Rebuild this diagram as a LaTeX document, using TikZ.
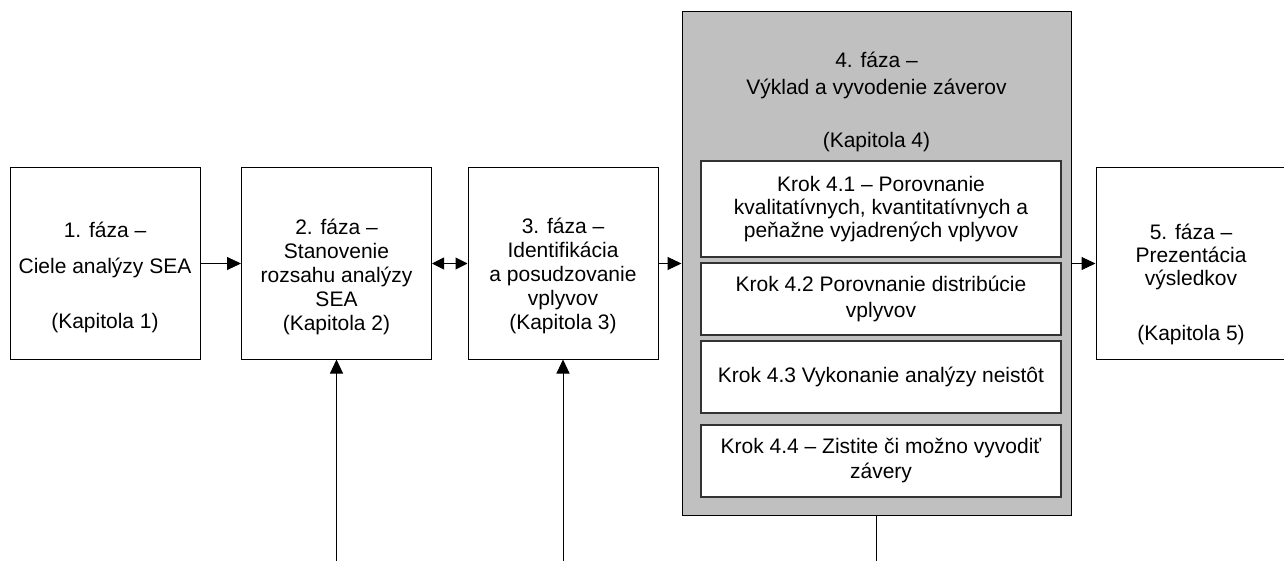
\documentclass[tikz,border=0pt]{standalone}
\usepackage{fontspec}
\setmainfont{Liberation Sans}
\usetikzlibrary{arrows.meta}
\definecolor{panelgray}{HTML}{C0C0C0}
\begin{document}
\begin{tikzpicture}[x=1pt,y=-1pt,
  phasebox/.style={draw=black,line width=1pt,fill=white,minimum width=190pt,minimum height=191pt,inner sep=0pt},
  panel/.style={draw=black,line width=1pt,fill=panelgray,minimum width=389pt,minimum height=503pt,inner sep=0pt},
  stepbox/.style={draw=black!80,line width=1.3pt,fill=white,minimum width=360pt,inner sep=0pt,align=center,font=\fontsize{21}{23}\selectfont},
  txt/.style={align=center,inner sep=0pt,font=\fontsize{21}{24}\selectfont},
  arr/.style={-{Triangle[length=14pt,width=13pt]},line width=1pt},
  dbl/.style={{Triangle[length=12pt,width=12pt]}-{Triangle[length=12pt,width=12pt]},line width=1pt}
]
\useasboundingbox (0,0) rectangle (1284,561);

% phase boxes
\node[phasebox] (b1) at (105,263.5) {};
\node[phasebox] (b2) at (336.5,263.5) {};
\node[phasebox] (b3) at (563,263.5) {};
\node[panel]    (p4) at (876.5,263.5) {};
\node[phasebox] (b5) at (1191,263.5) {};

% texts of the phase boxes
\node[txt] (t1) at (105,277) {1. fáza –\\[12pt]Ciele analýzy SEA\\[31pt](Kapitola 1)};
\node[txt] (t2) at (336.5,277) {2. fáza –\\Stanovenie\\rozsahu analýzy\\SEA\\(Kapitola 2)};
\node[txt] (t3) at (563,276) {3. fáza –\\Identifikácia\\a posudzovanie\\vplyvov\\(Kapitola 3)};
\node[txt] (t4) at (876.5,102) {4. fáza –\\[3pt]Výklad a vyvodenie záverov\\[29pt](Kapitola 4)};
\node[txt] (t5) at (1191,284) {5. fáza –\\[-1pt]Prezentácia\\[-1pt]výsledkov\\[31pt](Kapitola 5)};

% steps inside phase 4
\node[stepbox,minimum height=96pt] (s1) at (881,209) {Krok 4.1 – Porovnanie\\kvalitatívnych, kvantitatívnych a\\peňažne vyjadrených vplyvov};
\node[stepbox,minimum height=72pt] (s2) at (881,299) {Krok 4.2 Porovnanie distribúcie\\[3pt]vplyvov};
\node[stepbox,minimum height=72pt] (s3) at (881,377) {Krok 4.3 Vykonanie analýzy neistôt};
\node[stepbox,minimum height=72pt] (s4) at (881,461) {Krok 4.4 – Zistite či možno vyvodiť\\[2pt]závery};

% connectors
\draw[arr] (b1) -- (b2);
\draw[dbl] (b2) -- (b3);
\draw[arr] (b3) -- (p4);
\draw[arr] (p4) -- (b5);

\coordinate (in2) at (336.5,561);
\coordinate (in3) at (563,561);
\coordinate (out4) at (876.5,561);
\draw[arr] (in2) -- (b2.south);
\draw[arr] (in3) -- (b3.south);
\draw[line width=1pt] (p4.south) -- (out4);
\end{tikzpicture}
\end{document}
